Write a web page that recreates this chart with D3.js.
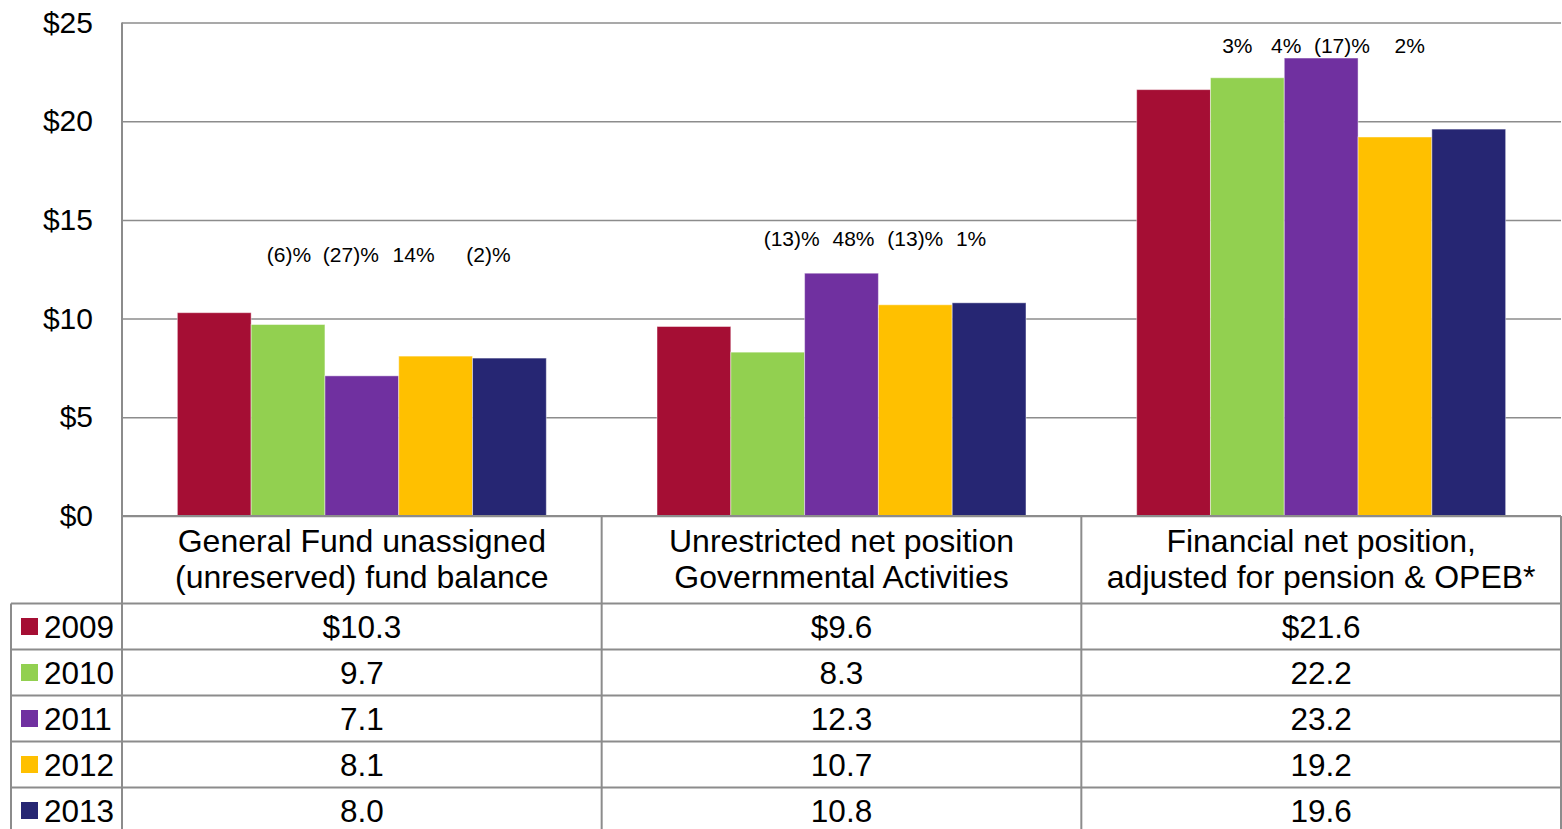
<!DOCTYPE html>
<html>
<head>
<meta charset="utf-8">
<script src="https://cdn.jsdelivr.net/npm/d3@7"></script>
<style>
  html, body { margin: 0; padding: 0; background: #fff; }
  svg { display: block; font-family: "Liberation Sans", Arial, sans-serif; }
</style>
</head>
<body>
<figure id="fund-chart" style="margin:0"></figure>
<script>
// chart data
const categories = [
  ['General Fund unassigned', '(unreserved) fund balance'],
  ['Unrestricted net position', 'Governmental Activities'],
  ['Financial net position,', 'adjusted for pension & OPEB*']
];
const years = ['2009', '2010', '2011', '2012', '2013'];
const colors = ['#A50E34', '#92D050', '#7030A0', '#FFC000', '#262673'];
const values2009 = [10.3, 9.6, 21.6];
const values2010 = [9.7, 8.3, 22.2];
const values2011 = [7.1, 12.3, 23.2];
const values2012 = [8.1, 10.7, 19.2];
const values2013 = [8.0, 10.8, 19.6];
const tableLabels2009 = ['$10.3', '$9.6', '$21.6'];
const changeLabels = [
  ['(6)%', '(27)%', '14%', '(2)%'],
  ['(13)%', '48%', '(13)%', '1%'],
  ['3%', '4%', '(17)%', '2%']
];
const yTicks = [0, 5, 10, 15, 20, 25];

const seriesValues = [values2009, values2010, values2011, values2012, values2013];

// layout
const width = 1562, height = 829;
const plot = { left: 122, right: 1561, top: 22.5, bottom: 516 };
const rowH = 46;
const headerBottom = 603.5;
const gridColor = '#8c8c8c';
// annotation placement: height in value units, x nudge from bar centre in px
const changeLabelHeight = [12.85, 13.66, 23.43];
const changeLabelNudge = [
  [1, -11, -22, -21],
  [24, 12, 0, -18],
  [-10, -35, -53, -59]
];

const svg = d3.select('figure#fund-chart')
  .append('svg')
  .attr('width', width)
  .attr('height', height);

const x0 = d3.scaleBand()
  .domain(d3.range(categories.length))
  .range([plot.left, plot.right])
  .padding(0);

const x1 = d3.scaleBand()
  .domain(years)
  .range([0, x0.bandwidth()])
  .paddingInner(0)
  .paddingOuter(0.75);

const y = d3.scaleLinear()
  .domain([0, 25])
  .range([plot.bottom, plot.top]);

// y axis with gridlines
svg.append('g')
  .attr('transform', 'translate(' + plot.left + ',0)')
  .call(d3.axisLeft(y).tickValues(yTicks).tickFormat(d => '$' + d).tickSize(0).tickPadding(29))
  .call(g => g.select('.domain').remove())
  .call(g => g.selectAll('.tick line')
    .attr('x2', plot.right - plot.left)
    .attr('stroke', gridColor)
    .attr('stroke-width', 1.5))
  .call(g => g.selectAll('.tick text')
    .attr('fill', '#000')
    .style('font-size', '30px')
    .style('font-family', '"Liberation Sans", Arial, sans-serif'));

// bars
const groups = svg.selectAll('.bar-group')
  .data(categories)
  .join('g')
  .attr('class', 'bar-group')
  .attr('transform', (d, i) => 'translate(' + x0(i) + ',0)');

groups.selectAll('rect')
  .data((d, i) => years.map((yr, j) => ({ year: yr, value: seriesValues[j][i], color: colors[j] })))
  .join('rect')
  .attr('x', d => x1(d.year))
  .attr('y', d => y(d.value))
  .attr('width', x1.bandwidth())
  .attr('height', d => y(0) - y(d.value))
  .attr('fill', d => d.color)
  .attr('stroke', 'rgba(255,255,255,0.45)')
  .attr('stroke-width', 1);

// year over year change labels
groups.selectAll('text.change')
  .data((d, i) => changeLabels[i].map((t, k) => ({ text: t, year: years[k + 1], h: changeLabelHeight[i], dx: changeLabelNudge[i][k] })))
  .join('text')
  .attr('class', 'change')
  .attr('x', d => x1(d.year) + x1.bandwidth() / 2 + d.dx)
  .attr('y', d => y(d.h))
  .attr('text-anchor', 'middle')
  .style('font-size', '21px')
  .text(d => d.text);

// data table
const table = svg.append('g').attr('class', 'data-table');
const rowTops = years.map((yr, j) => headerBottom + j * rowH);
const legendLeft = 11;

// horizontal lines
table.append('line')
  .attr('x1', plot.left).attr('x2', plot.right)
  .attr('y1', plot.bottom).attr('y2', plot.bottom);
rowTops.forEach(t => {
  table.append('line')
    .attr('x1', legendLeft).attr('x2', plot.right)
    .attr('y1', t).attr('y2', t);
});
// vertical lines
d3.range(categories.length + 1).forEach(i => {
  const xx = i < categories.length ? x0(i) : plot.right;
  table.append('line')
    .attr('x1', xx).attr('x2', xx)
    .attr('y1', i === 0 ? plot.top : plot.bottom).attr('y2', height);
});
table.append('line')
  .attr('x1', legendLeft).attr('x2', legendLeft)
  .attr('y1', headerBottom).attr('y2', height);
table.selectAll('line')
  .attr('stroke', gridColor)
  .attr('stroke-width', 2);

// category headers
categories.forEach((lines, i) => {
  const t = table.append('text')
    .attr('x', x0(i) + x0.bandwidth() / 2)
    .attr('y', 552)
    .attr('text-anchor', 'middle')
    .style('font-size', '32px');
  lines.forEach((ln, k) => {
    t.append('tspan')
      .attr('x', x0(i) + x0.bandwidth() / 2)
      .attr('dy', k === 0 ? 0 : 36)
      .text(ln);
  });
});

// legend column + values
years.forEach((yr, j) => {
  const mid = rowTops[j] + rowH / 2;
  table.append('rect')
    .attr('x', 21).attr('y', mid - 8.5)
    .attr('width', 17).attr('height', 17)
    .attr('fill', colors[j]);
  table.append('text')
    .attr('x', 44).attr('y', mid + 11.5)
    .style('font-size', '31.5px')
    .text(yr);
  categories.forEach((c, i) => {
    const v = seriesValues[j][i];
    table.append('text')
      .attr('x', x0(i) + x0.bandwidth() / 2)
      .attr('y', mid + 11.5)
      .attr('text-anchor', 'middle')
      .style('font-size', '31.5px')
      .text(j === 0 ? tableLabels2009[i] : v.toFixed(1));
  });
});
</script>
</body>
</html>
